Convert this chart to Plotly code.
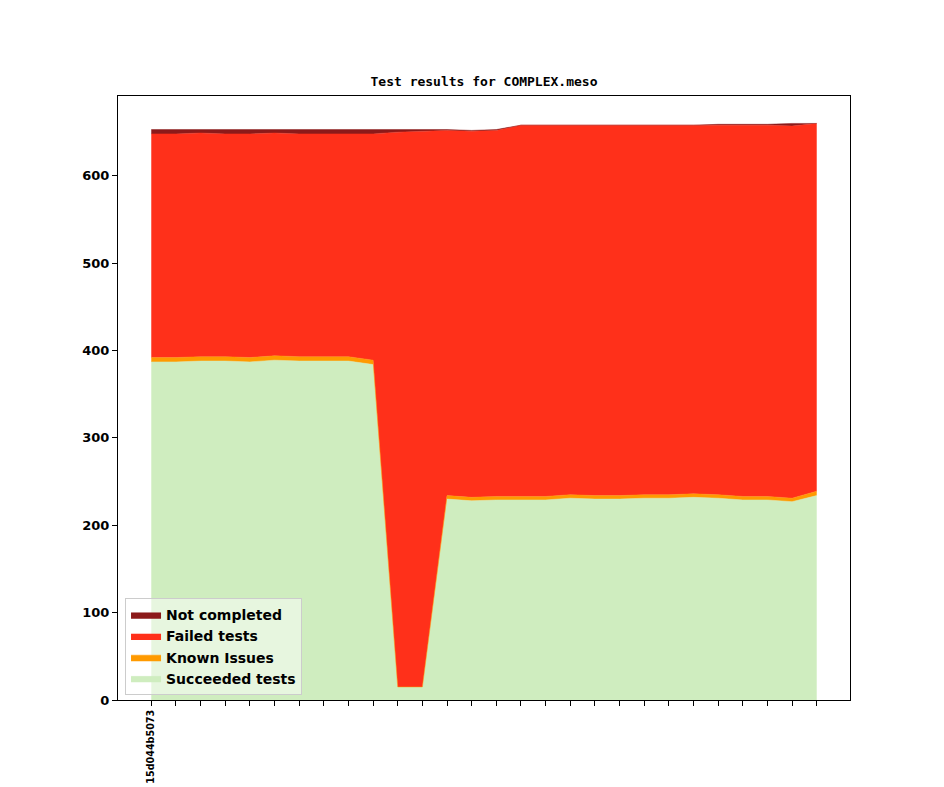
import plotly.graph_objects as go

x_idx = list(range(28))
tick_labels = ["15d044b5073"] + [""] * 27

succeeded = [387, 387, 388, 388, 387, 389, 388, 388, 388, 384, 15, 15, 230, 228, 229, 229, 229, 231, 230, 230,
             231, 231, 232, 231, 229, 229, 227, 234]
known_issues = [5, 5, 5, 5, 5, 5, 5, 5, 5, 5, 0, 0, 4, 4, 4, 4, 4, 4, 4, 4, 4, 4, 4, 4, 4, 4, 4, 5]
failed_top = [648, 648, 649, 648, 648, 649, 648, 648, 648, 648, 650, 651, 652, 651, 652, 658, 658, 658, 658, 658,
              658, 658, 658, 658, 658, 658, 657, 660]
failed = [f - s - k for f, s, k in zip(failed_top, succeeded, known_issues)]
not_completed = [5, 5, 4, 5, 5, 4, 5, 5, 5, 5, 3, 2, 1, 1, 1, 0, 0, 0, 0, 0, 0, 0, 0, 1, 1, 1, 3, 0]

series = [
    ("Succeeded tests", succeeded, "#cfedbf"),
    ("Known Issues", known_issues, "#ff9a00"),
    ("Failed tests", failed, "#ff301a"),
    ("Not completed", not_completed, "#8c1a1a"),
]

fig = go.Figure()
for name, vals, col in series:
    fig.add_trace(go.Scatter(
        x=x_idx, y=vals, name=name, mode="lines", stackgroup="one",
        line=dict(color=col, width=0.5), fillcolor=col,
    ))

fig.update_layout(
    width=944, height=787,
    margin=dict(l=110, r=102, t=88, b=95),
    paper_bgcolor="white", plot_bgcolor="white",
    font=dict(family="DejaVu Sans", size=13, color="black"),
    title=dict(text="Test results for COMPLEX.meso", x=0.5, xref="paper", xanchor="center",
               y=1 - 73 / 787, yref="container", yanchor="middle",
               font=dict(family="DejaVu Sans Mono", size=13, weight="bold", color="black")),
    showlegend=True,
    legend=dict(x=0.0096, y=0.008, xanchor="left", yanchor="bottom", traceorder="reversed",
                bgcolor="rgba(255,255,255,0.5)", bordercolor="#cccccc", borderwidth=1,
                font=dict(family="DejaVu Sans", size=14, weight="bold", color="black"),
                itemwidth=30),
)
fig.update_xaxes(
    range=[-1.35, 28.35], tickmode="array", tickvals=x_idx, ticktext=tick_labels,
    tickangle=-90, ticks="outside", ticklen=5, tickcolor="black", automargin=False,
    tickfont=dict(family="DejaVu Sans", size=9.6, weight="bold", color="black"),
    showgrid=False, zeroline=False, showline=True, linecolor="black", linewidth=1, mirror=True,
)
fig.update_yaxes(
    range=[0, 691.4], tickmode="array", tickvals=[0, 100, 200, 300, 400, 500, 600],
    ticks="outside", ticklen=5, tickcolor="black", automargin=False,
    tickfont=dict(family="DejaVu Sans", size=13, weight="bold", color="black"),
    showgrid=False, zeroline=False, showline=True, linecolor="black", linewidth=1, mirror=True,
)

fig.write_html("out.html")
